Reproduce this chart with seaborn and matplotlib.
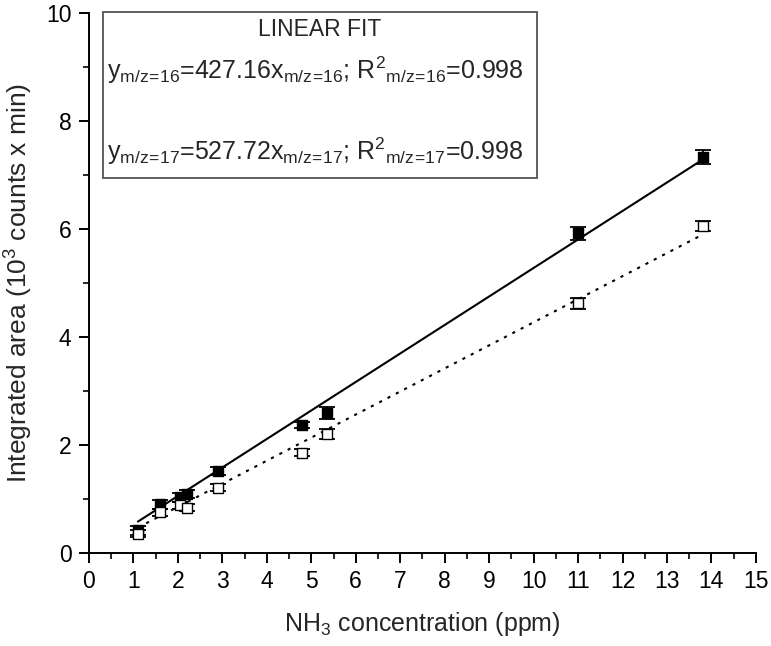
import matplotlib
matplotlib.use("Agg")
import matplotlib.pyplot as plt
import seaborn as sns
import numpy as np
import pandas as pd
from matplotlib.ticker import MultipleLocator

# Data (10^3 counts x min)
conc = [1.1, 1.6, 2.05, 2.2, 2.9, 4.8, 5.35, 11.0, 13.8]
area_mz17 = [0.42, 0.90, 1.03, 1.09, 1.52, 2.37, 2.60, 5.92, 7.33]
err_mz17 = [0.08, 0.09, 0.08, 0.08, 0.08, 0.06, 0.11, 0.12, 0.13]
area_mz16 = [0.36, 0.75, 0.88, 0.84, 1.21, 1.86, 2.20, 4.62, 6.05]
err_mz16 = [0.07, 0.07, 0.07, 0.07, 0.06, 0.07, 0.09, 0.10, 0.09]
slope_mz17 = 0.52772
slope_mz16 = 0.42716
fit_x = [1.1, 13.8]

sns.set_theme(style="ticks")
plt.rcParams['font.family'] = ['Liberation Sans', 'DejaVu Sans']
plt.rcParams['mathtext.default'] = 'regular'

fig = plt.figure(figsize=(7.71, 6.46), dpi=100)
ax = fig.add_axes([0.1154, 0.144, 0.865, 0.836])

df17 = pd.DataFrame({"x": conc, "y": area_mz17})
df16 = pd.DataFrame({"x": conc, "y": area_mz16})
fx = np.array(fit_x)
fit17 = pd.DataFrame({"x": fx, "y": slope_mz17 * fx})
fit16 = pd.DataFrame({"x": fx, "y": slope_mz16 * fx})

sns.lineplot(data=fit17, x="x", y="y", ax=ax, color="black", lw=1.5, zorder=2)
sns.lineplot(data=fit16, x="x", y="y", ax=ax, color="black", lw=1.5, linestyle=(0, (1.5, 3)), zorder=2)

ax.errorbar(conc, area_mz17, yerr=err_mz17, fmt="none", ecolor="black", elinewidth=1.3, capsize=6, capthick=1.3, zorder=3)
ax.errorbar(conc, area_mz16, yerr=err_mz16, fmt="none", ecolor="black", elinewidth=1.3, capsize=6, capthick=1.3, zorder=3)

sns.scatterplot(data=df17, x="x", y="y", ax=ax, marker="s", s=45, color="black", edgecolor="black", linewidth=1, zorder=4)
sns.scatterplot(data=df16, x="x", y="y", ax=ax, marker="s", s=45, color="white", edgecolor="black", linewidth=1, zorder=4)

ax.set_xlim(0, 15)
ax.set_ylim(0, 10)
ax.xaxis.set_major_locator(MultipleLocator(1))
ax.xaxis.set_minor_locator(MultipleLocator(0.5))
ax.yaxis.set_major_locator(MultipleLocator(2))
ax.yaxis.set_minor_locator(MultipleLocator(1))
ax.tick_params(axis="both", which="major", direction="out", length=7.5, width=1.4, labelsize=16.5, colors="black", pad=5)
ax.tick_params(axis="both", which="minor", direction="out", length=4, width=1.4)
for s in ["top", "right"]:
    ax.spines[s].set_visible(False)
for s in ["left", "bottom"]:
    ax.spines[s].set_linewidth(1.4)
    ax.spines[s].set_color("black")

ax.set_xlabel("NH$_3$ concentration (ppm)", fontsize=18, labelpad=12)
ax.set_ylabel("Integrated area (10$^3$ counts x min)", fontsize=19, labelpad=8)

# Legend box
box = plt.Rectangle((0.021, 0.694), 0.651, 0.308, transform=ax.transAxes, fill=False,
                    edgecolor="#555555", linewidth=1.3, zorder=5, clip_on=False)
ax.add_patch(box)
ax.text(0.3465, 0.9685, "LINEAR FIT", transform=ax.transAxes, ha="center", va="center", fontsize=16.5)
sub16 = r"m/z\!=\!16"
sub17 = r"m/z\!=\!17"
ax.text(0.027, 0.894, "$y_{%s}$=427.16$x_{%s}$; R$^2{}_{%s}$=0.998" % (sub16, sub16, sub16),
        transform=ax.transAxes, ha="left", va="center", fontsize=18)
ax.text(0.027, 0.743, "$y_{%s}$=527.72$x_{%s}$; R$^2{}_{%s}$=0.998" % (sub17, sub17, sub17),
        transform=ax.transAxes, ha="left", va="center", fontsize=18)

fig.savefig("out.png", dpi=100)
